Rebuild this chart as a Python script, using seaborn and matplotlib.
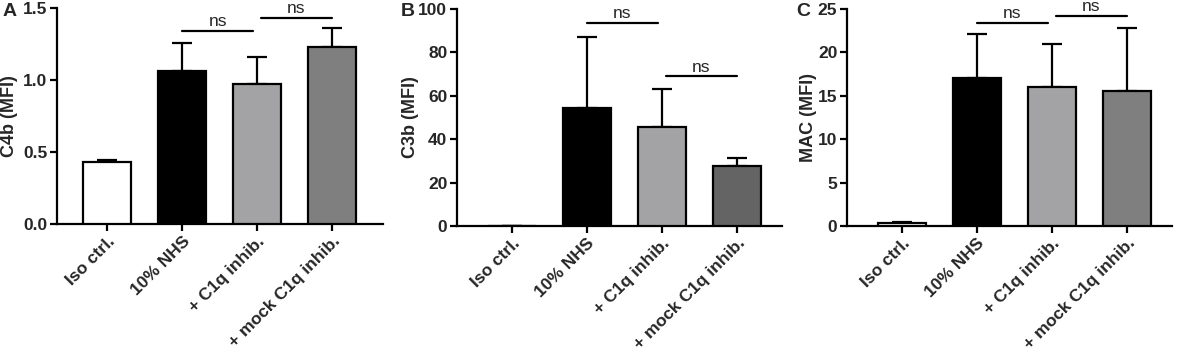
import numpy as np
import pandas as pd
import seaborn as sns
import matplotlib.pyplot as plt

sns.set_style('ticks')
plt.rcParams['font.family'] = ['Liberation Sans', 'DejaVu Sans']
plt.rcParams['font.weight'] = 'bold'

# Data
groups = ['Iso ctrl.', '10% NHS', '+ C1q inhib.', '+ mock C1q inhib.']

c4b_mean = [0.43, 1.06, 0.97, 1.23]
c4b_err = [0.015, 0.20, 0.19, 0.13]

c3b_mean = [0.0, 54.5, 45.5, 27.5]
c3b_err = [0.0, 32.5, 17.5, 4.0]

mac_mean = [0.35, 17.0, 16.0, 15.5]
mac_err = [0.10, 5.1, 5.0, 7.3]

# ns brackets: (left group, right group, height)
c4b_ns = [(1, 1.95, 1.34), (2.05, 3, 1.43)]
c3b_ns = [(1, 1.95, 93.5), (2.05, 3, 69)]
mac_ns = [(1, 1.95, 23.4), (2.05, 3, 24.2)]

colors_a = ['white', 'black', '#a2a2a6', '#7f7f7f']
colors_b = ['white', 'black', '#a2a2a6', '#646464']
colors_c = ['white', 'black', '#a2a2a6', '#7f7f7f']

panels = [
    ('A', 'C4b (MFI)', c4b_mean, c4b_err, c4b_ns, colors_a, (0, 1.5), [0, 0.5, 1.0, 1.5], '{:.1f}'),
    ('B', 'C3b (MFI)', c3b_mean, c3b_err, c3b_ns, colors_b, (0, 100), [0, 20, 40, 60, 80, 100], '{:.0f}'),
    ('C', 'MAC (MFI)', mac_mean, mac_err, mac_ns, colors_c, (0, 25), [0, 5, 10, 15, 20, 25], '{:.0f}'),
]

# axes boxes in figure pixels: left, right, bottom(from top), top(from top)
boxes = [(57, 383, 224, 8), (457, 782, 226, 9), (847, 1172, 226, 9)]
letter_x = [10, 408, 803]
ylabel_px = [18, 419, 817]  # right edge of the rotated y label
xlims = [(-0.67, 3.68), (-0.73, 3.6), (-0.73, 3.6)]

W, H = 1181, 355
fig = plt.figure(figsize=(W / 100, H / 100), dpi=100)

for i, (letter, ylab, mean, err, ns, cols, ylim, yticks, fmt) in enumerate(panels):
    l, r, b, t = boxes[i]
    ax = fig.add_axes([l / W, 1 - b / H, (r - l) / W, (b - t) / H])
    df = pd.DataFrame({'group': groups, 'value': mean})
    sns.barplot(data=df, x='group', y='value', hue='group', palette=cols,
                width=0.64, edgecolor='black', linewidth=1.6, legend=False,
                errorbar=None, ax=ax, zorder=3)
    ax.errorbar(np.arange(len(groups)), mean, yerr=[np.zeros(len(err)), err],
                fmt='none', ecolor='black', elinewidth=1.6, capsize=7.5,
                capthick=1.6, zorder=2)
    for x0, x1, y in ns:
        ax.plot([x0, x1], [y, y], color='black', lw=1.6, clip_on=False)
        ax.text((x0 + x1) / 2, y + (ylim[1] - ylim[0]) * 0.008, 'ns',
                ha='center', va='bottom', fontsize=12.5, fontweight='normal')
    ax.set_ylim(*ylim)
    ax.set_xlim(*xlims[i])
    ax.set_yticks(yticks)
    ax.set_yticklabels([fmt.format(v) for v in yticks], fontsize=12.5, fontweight='bold')
    ax.set_xticks(range(len(groups)))
    ax.set_xticklabels(groups, rotation=45, ha='right', rotation_mode='anchor',
                       fontsize=12.5, fontweight='bold')
    ax.set_xlabel('')
    ax.set_ylabel(ylab, fontsize=13, fontweight='bold')
    ax.yaxis.set_label_coords((ylabel_px[i] - l) / (r - l), 0.5)
    sns.despine(ax=ax)
    for s in ['left', 'bottom']:
        ax.spines[s].set_linewidth(1.6)
        ax.spines[s].set_color('black')
    ax.tick_params(axis='both', width=1.6, length=5, color='black', pad=2)
    fig.text(letter_x[i] / W, 1 - 12 / H, letter, ha='center', va='center',
             fontsize=14, fontweight='bold')

fig.savefig('out.png', dpi=100)
